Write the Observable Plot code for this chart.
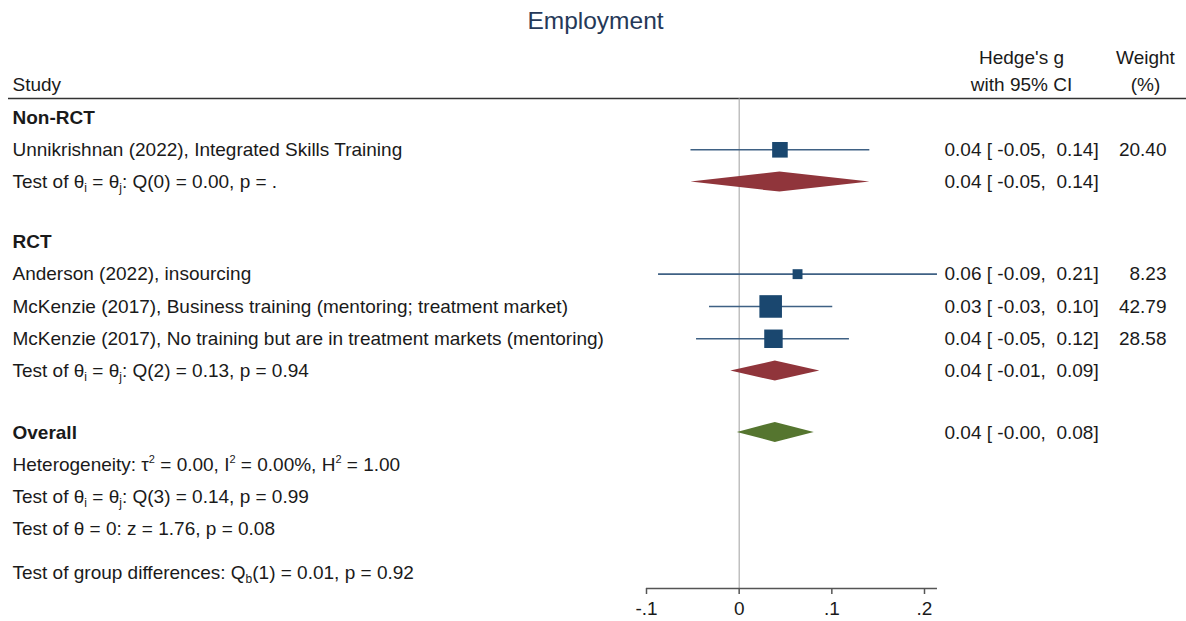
<!DOCTYPE html>
<html>
<head>
<meta charset="utf-8">
<script src="https://cdn.jsdelivr.net/npm/d3@7"></script>
<script src="https://cdn.jsdelivr.net/npm/@observablehq/plot@0.6"></script>
<style>
  body { margin: 0; background: #fff; }
  svg text { white-space: pre; }
</style>
</head>
<body>
<div id="chart"></div>
<script>
// ---------- data ----------
const title = "Employment";
const studies = [
  "Unnikrishnan (2022), Integrated Skills Training",
  "Anderson (2022), insourcing",
  "McKenzie (2017), Business training (mentoring; treatment market)",
  "McKenzie (2017), No training but are in treatment markets (mentoring)"
];
const studyRows = [1, 4.85, 5.85, 6.85];
const studyEst = [0.044, 0.063, 0.034, 0.037];
const studyLo = [-0.052, -0.087, -0.032, -0.046];
const studyHi = [0.141, 0.214, 0.101, 0.119];
const studyWeight = [20.40, 8.23, 42.79, 28.58];

const groupLabels = ["Non-RCT", "RCT", "Overall"];
const groupLabelRows = [0, 3.85, 9.75];
const summaryRows = [2, 7.85, 9.75];
const summaryEst = [0.044, 0.039, 0.039];
const summaryLo = [-0.052, -0.009, -0.002];
const summaryHi = [0.141, 0.087, 0.081];
const summaryColors = ["#90353b", "#90353b", "#55752f"];

const noteLabels = [
  "Test of θ_{i} = θ_{j}: Q(0) = 0.00, p = .",
  "Test of θ_{i} = θ_{j}: Q(2) = 0.13, p = 0.94",
  "Heterogeneity: τ^{2} = 0.00, I^{2} = 0.00%, H^{2} = 1.00",
  "Test of θ_{i} = θ_{j}: Q(3) = 0.14, p = 0.99",
  "Test of θ = 0: z = 1.76, p = 0.08",
  "Test of group differences: Q_{b}(1) = 0.01, p = 0.92"
];
const noteRows = [2, 7.85, 10.75, 11.75, 12.75, 14.1];

const xTicks = [-0.1, 0, 0.1, 0.2];
const xTickLabels = ["-.1", "0", ".1", ".2"];

// ---------- layout constants ----------
const W = 1186, H = 621;
const ML = 12, MR = 20;
const rowPx = 32.3, firstRowPx = 117;
const headerTopRow = -1.83, headerBottomRow = -1, headerLineRow = -0.59;
const axisRow = (588 - firstRowPx) / rowPx;
const diamondHalf = 10 / rowPx;
const FONT = 19;
const textColor = "#1a1a1a";

// ---------- tables ----------
const fmt = v => v.toFixed(2);
const studyData = studies.map((s, i) => ({
  label: s, row: studyRows[i], est: studyEst[i], lo: studyLo[i], hi: studyHi[i], w: studyWeight[i],
  stat: `${fmt(studyEst[i])} [ ${fmt(studyLo[i])},  ${fmt(studyHi[i])}]`, wt: fmt(studyWeight[i])
}));
const summaryData = summaryRows.map((r, i) => ({
  row: r, est: summaryEst[i], lo: summaryLo[i], hi: summaryHi[i], c: summaryColors[i],
  stat: `${fmt(summaryEst[i])} [ ${fmt(summaryLo[i])},  ${fmt(summaryHi[i])}]`
}));
const diamondPts = summaryData.flatMap((d, i) => [
  {g: i, y: d.row - diamondHalf, x1: d.est, x2: d.est, c: d.c},
  {g: i, y: d.row, x1: d.lo, x2: d.hi, c: d.c},
  {g: i, y: d.row + diamondHalf, x1: d.est, x2: d.est, c: d.c}
]);
const groupData = groupLabels.map((l, i) => ({label: l, row: groupLabelRows[i]}));
const noteData = noteLabels.map((l, i) => ({label: l, row: noteRows[i]}));
const xMaxLine = d3.max(studyHi);

const leftText = (data, opts) => Plot.text(data, {
  frameAnchor: "left", textAnchor: "start", fontSize: FONT, fill: textColor, ...opts
});
const centerText = (data, opts) => Plot.text(data, {
  frameAnchor: "left", textAnchor: "middle", fontSize: FONT, fill: textColor, ...opts
});

const chart = Plot.plot({
  width: W, height: H,
  marginTop: 0, marginBottom: H - 588, marginLeft: ML, marginRight: MR,
  style: {fontFamily: "'Liberation Sans', Arial, sans-serif", fontSize: FONT + "px", background: "#fff", color: textColor},
  x: {domain: [-0.1, 0.2], range: [646, 924]},
  y: {domain: [0, 14.1], range: [firstRowPx, firstRowPx + 14.1 * rowPx], axis: null},
  r: {type: "sqrt", domain: [0, 100], range: [0, 19.47]},
  color: {type: "identity"},
  marks: [
    // title
    Plot.text([title], {frameAnchor: "top", lineAnchor: "middle", dy: 21, dx: (MR - ML) / 2 + 2, fontSize: 24.5, fill: "#253858"}),
    // headers
    leftText(["Study"], {y: () => headerBottomRow}),
    centerText(["Hedge's g"], {y: () => headerTopRow, dx: 1021 - ML}),
    centerText(["with 95% CI"], {y: () => headerBottomRow, dx: 1021 - ML}),
    centerText(["Weight"], {y: () => headerTopRow, dx: 1145 - ML}),
    centerText(["(%)"], {y: () => headerBottomRow, dx: 1145 - ML}),
    Plot.ruleY([headerLineRow], {stroke: "#333", strokeWidth: 1.6, insetLeft: -4, insetRight: -MR}),
    // reference line at 0
    Plot.ruleX([0], {y1: headerLineRow, y2: axisRow, stroke: "#a0a0a0", strokeWidth: 1}),
    // axis
    Plot.ruleY([axisRow], {x1: xTicks[0], x2: xMaxLine, stroke: "#555", strokeWidth: 1.5}),
    Plot.axisX({ticks: xTicks, tickFormat: d => xTickLabels[xTicks.indexOf(d)], tickSize: 6, tickPadding: 7,
      fontSize: FONT, stroke: "#555", strokeWidth: 1.5, fill: textColor}),
    // labels
    leftText(groupData, {y: "row", text: "label", fontWeight: "bold"}),
    leftText(studyData, {y: "row", text: "label"}),
    leftText(noteData, {y: "row", text: "label"}),
    // CIs and squares
    Plot.ruleY(studyData, {y: "row", x1: "lo", x2: "hi", stroke: "#3f6184", strokeWidth: 1.6}),
    Plot.dot(studyData, {x: "est", y: "row", r: "w", symbol: "square", fill: "#1a476f", stroke: null}),
    // diamonds
    Plot.areaX(diamondPts, {y: "y", x1: "x1", x2: "x2", z: "g", fill: "c"}),
    // stat columns
    leftText(studyData, {y: "row", text: "stat", dx: 944 - ML}),
    leftText(summaryData, {y: "row", text: "stat", dx: 944 - ML}),
    Plot.text(studyData, {y: "row", text: "wt", frameAnchor: "right", textAnchor: "end", fontSize: FONT, fill: textColor})
  ]
});

// sub/superscript markup -> tspans
const NS = "http://www.w3.org/2000/svg";
chart.querySelectorAll("text").forEach(t => {
  const s = t.textContent;
  if (!/[_^]\{/.test(s)) return;
  while (t.firstChild) t.removeChild(t.firstChild);
  const re = /([_^])\{([^}]*)\}/g;
  let last = 0, m, offset = 0;
  const add = (str, size, dy) => {
    const ts = document.createElementNS(NS, "tspan");
    ts.textContent = str;
    if (size) ts.setAttribute("font-size", size);
    if (dy) ts.setAttribute("dy", dy);
    t.appendChild(ts);
  };
  while ((m = re.exec(s))) {
    if (m.index > last) { add(s.slice(last, m.index), null, -offset); offset = 0; }
    const d = m[1] === "_" ? 4 : -8;
    add(m[2], m[1] === "_" ? "12px" : "11px", d - offset);
    offset = d;
    last = re.lastIndex;
  }
  if (last < s.length) add(s.slice(last), null, -offset);
});

document.getElementById("chart").appendChild(chart);
</script>
</body>
</html>
